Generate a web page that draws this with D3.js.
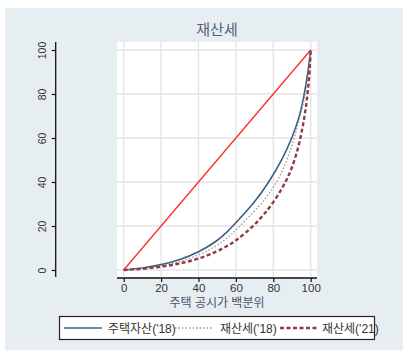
<!DOCTYPE html>
<html>
<head>
<meta charset="utf-8">
<script src="https://cdn.jsdelivr.net/npm/d3@7/dist/d3.min.js"></script>
<style>
  html, body { margin: 0; padding: 0; background: #ffffff; }
  svg text { font-family: "Liberation Sans", "Noto Sans CJK KR", sans-serif; }
</style>
</head>
<body>
<svg id="chart" width="403" height="350"></svg>
<script>
// Lorenz curves: cumulative share (%) by house-price percentile
const chartTitle = "재산세";
const xTitle = "주택 공시가 백분위";
const tickValues = [0, 20, 40, 60, 80, 100];

const equalityLine = [[0, 0], [100, 100]];

const housingAssets18 = [
  [0, 0], [10, 0.8], [20, 2.3], [30, 4.6], [40, 8], [50, 13.2], [55, 17],
  [60, 21.5], [70, 30.8], [77, 39], [85, 50.5], [90, 60], [94, 69.5], [96.4, 79],
  [98.5, 89.5], [100, 100]
];
const propertyTax18 = [
  [0, 0], [10, 0.6], [20, 1.8], [30, 3.7], [40, 6.6], [50, 11], [56.8, 15.5],
  [60, 18.2], [70, 26.8], [75, 31.6], [80, 37.2], [85, 45], [88.6, 53],
  [91.6, 61], [95, 71.5], [97.5, 81], [99, 89.5], [100, 100]
];
const propertyTax21 = [
  [0, 0], [10, 0.5], [20, 1.4], [30, 2.9], [40, 5], [50, 8.4], [56.8, 11.6],
  [60, 13.4], [65, 16.7], [70, 20.6], [75, 25.2], [80, 30.6], [85, 37.5],
  [88, 42.5], [90, 46.5], [92.5, 53], [94, 58], [96, 66], [98, 77],
  [99.3, 88], [100, 100]
];

const seriesNames = ["주택자산('18)", "재산세('18)", "재산세('21)"];

const svg = d3.select("#chart");

// outer panel
svg.append("rect").attr("x", 5).attr("y", 8).attr("width", 398).attr("height", 342)
  .attr("fill", "#e7eef2");

// plot region
const region = { x0: 117, x1: 317, y0: 42, y1: 277 };
svg.append("rect")
  .attr("x", region.x0).attr("y", region.y0)
  .attr("width", region.x1 - region.x0).attr("height", region.y1 - region.y0)
  .attr("fill", "#ffffff");

const x = d3.scaleLinear().domain([0, 100]).range([123.7, 310.7]);
const y = d3.scaleLinear().domain([0, 100]).range([270, 50]);

// grid
const grid = svg.append("g").attr("stroke", "#e4e4e4").attr("stroke-width", 1.4);
tickValues.forEach(v => {
  grid.append("line").attr("x1", x(v)).attr("x2", x(v))
    .attr("y1", region.y0).attr("y2", region.y1);
  grid.append("line").attr("y1", y(v)).attr("y2", y(v))
    .attr("x1", region.x0).attr("x2", region.x1);
});

// y axis (offset to the left of the plot region)
const yAxis = svg.append("g").attr("transform", "translate(55.7,0)");
yAxis.append("line").attr("x1", 0).attr("x2", 0).attr("y1", region.y0).attr("y2", region.y1)
  .attr("stroke", "#111").attr("stroke-width", 1.3);
yAxis.call(d3.axisLeft(y).tickValues(tickValues).tickSize(4).tickFormat(d3.format("d")))
  .call(g => g.select(".domain").remove());
yAxis.selectAll(".tick line").attr("stroke", "#111").attr("stroke-width", 1.2);
yAxis.selectAll(".tick text")
  .attr("transform", "rotate(-90)")
  .attr("x", 0).attr("y", -10).attr("dy", "0")
  .attr("text-anchor", "middle")
  .attr("font-size", 10.5).attr("fill", "#333");

// x axis
const xAxis = svg.append("g").attr("transform", `translate(0,${region.y1 + 1})`);
xAxis.append("line").attr("x1", region.x0).attr("x2", region.x1).attr("y1", 0).attr("y2", 0)
  .attr("stroke", "#111").attr("stroke-width", 1.3);
xAxis.call(d3.axisBottom(x).tickValues(tickValues).tickSize(4).tickFormat(d3.format("d")))
  .call(g => g.select(".domain").remove());
xAxis.selectAll(".tick line").attr("stroke", "#111").attr("stroke-width", 1.2);
xAxis.selectAll(".tick text").attr("y", 6).attr("font-size", 11.5).attr("fill", "#333");

// titles
svg.append("text").attr("x", 217).attr("y", 35).attr("text-anchor", "middle")
  .attr("font-size", 15).attr("fill", "#54617e").text(chartTitle);
svg.append("text").attr("x", 217).attr("y", 307).attr("text-anchor", "middle")
  .attr("font-size", 12).attr("fill", "#4a5268").text(xTitle);

// curves
const line = d3.line().x(d => x(d[0])).y(d => y(d[1])).curve(d3.curveBasis);
const plot = svg.append("g").attr("fill", "none");
plot.append("path").datum(equalityLine).attr("d", line)
  .attr("stroke", "#ff2a2a").attr("stroke-width", 1.3);
plot.append("path").datum(housingAssets18).attr("d", line)
  .attr("stroke", "#3c5f82").attr("stroke-width", 1.6);
plot.append("path").datum(propertyTax18).attr("d", line)
  .attr("stroke", "#9a9a9a").attr("stroke-width", 1.3).attr("stroke-dasharray", "1.5,2");
plot.append("path").datum(propertyTax21).attr("d", line)
  .attr("stroke", "#923b43").attr("stroke-width", 2.4).attr("stroke-dasharray", "4,2.5");

// legend
const legend = svg.append("g");
legend.append("rect").attr("x", 59.5).attr("y", 316.5).attr("width", 315).attr("height", 23)
  .attr("fill", "#ffffff").attr("stroke", "#222").attr("stroke-width", 1.2);
const legendItems = [
  { name: seriesNames[0], x0: 64, color: "#3c5f82", w: 1.6, dash: null, tx: 108 },
  { name: seriesNames[1], x0: 175, color: "#9a9a9a", w: 1.3, dash: "1.5,2", tx: 220 },
  { name: seriesNames[2], x0: 280, color: "#923b43", w: 2.4, dash: "4,2.5", tx: 322 }
];
legendItems.forEach(it => {
  const l = legend.append("line").attr("x1", it.x0).attr("x2", it.x0 + 38)
    .attr("y1", 328).attr("y2", 328)
    .attr("stroke", it.color).attr("stroke-width", it.w);
  if (it.dash) l.attr("stroke-dasharray", it.dash);
  legend.append("text").attr("x", it.tx).attr("y", 332.5)
    .attr("font-size", 12).attr("fill", "#333").text(it.name);
});
</script>
</body>
</html>
